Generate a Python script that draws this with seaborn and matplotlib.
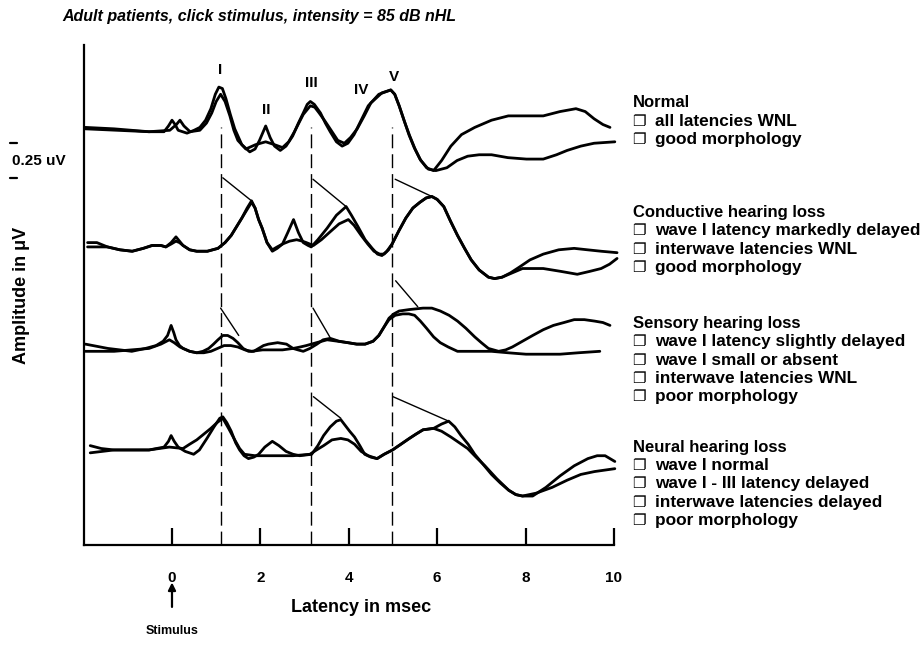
import matplotlib
matplotlib.use("Agg")
import matplotlib.pyplot as plt
import pandas as pd
import seaborn as sns

# ---------------------------------------------------------------- data
# latency in ms, amplitude in uV relative to each trace's own baseline
normal_a_ms = [-1.96, -1.31, -0.52, -0.18, -0.08, 0.00, 0.07, 0.14, 0.34, 0.50,
               0.63, 0.76, 0.88, 0.98, 1.06, 1.14, 1.22, 1.32, 1.42, 1.58,
               1.76, 1.88, 1.98, 2.12, 2.22, 2.32, 2.45, 2.58, 2.73, 2.86,
               2.97, 3.06, 3.13, 3.22, 3.36, 3.47, 3.58, 3.72, 3.85, 3.98,
               4.12, 4.28, 4.44, 4.68, 4.95, 5.04, 5.14, 5.25, 5.36, 5.48,
               5.61, 5.76, 5.92, 6.10, 6.31, 6.55, 6.85, 7.23, 7.61, 8.00,
               8.40, 8.78, 9.14, 9.35, 9.55, 9.75, 9.91]
normal_a_uv = [0.00, -0.01, -0.03, -0.03, 0.01, 0.05, 0.02, -0.02, -0.04, -0.02,
               0.00, 0.05, 0.13, 0.23, 0.28, 0.27, 0.20, 0.09, -0.01, -0.12,
               -0.17, -0.15, -0.09, 0.01, -0.07, -0.13, -0.16, -0.13, -0.06, 0.03,
               0.10, 0.16, 0.18, 0.16, 0.10, 0.03, -0.03, -0.10, -0.13, -0.11,
               -0.05, 0.05, 0.15, 0.23, 0.26, 0.23, 0.15, 0.05, -0.05, -0.14,
               -0.22, -0.28, -0.30, -0.23, -0.13, -0.05, 0.00, 0.05, 0.08, 0.08,
               0.08, 0.11, 0.13, 0.11, 0.06, 0.02, 0.00]
normal_b_ms = [-1.96, -0.52, -0.05, 0.10, 0.18, 0.27, 0.41, 0.63, 0.78, 0.90,
               1.00, 1.10, 1.20, 1.31, 1.40, 1.49, 1.67, 1.89, 2.12, 2.32,
               2.50, 2.64, 2.77, 2.97, 3.13, 3.23, 3.33, 3.47, 3.60, 3.75,
               3.90, 4.04, 4.19, 4.35, 4.50, 4.75, 4.95, 5.04, 5.14, 5.26,
               5.38, 5.50, 5.63, 5.80, 5.97, 6.22, 6.45, 6.69, 6.95, 7.23,
               7.60, 8.02, 8.40, 8.70, 8.94, 9.25, 9.55, 10.02]
normal_b_uv = [-0.01, -0.03, -0.02, 0.02, 0.05, 0.01, -0.03, -0.02, 0.03, 0.10,
               0.18, 0.23, 0.18, 0.08, -0.02, -0.09, -0.15, -0.12, -0.10, -0.12,
               -0.14, -0.10, -0.03, 0.09, 0.15, 0.14, 0.10, 0.04, -0.02, -0.09,
               -0.11, -0.07, -0.01, 0.08, 0.17, 0.24, 0.26, 0.23, 0.15, 0.04,
               -0.06, -0.15, -0.23, -0.29, -0.30, -0.28, -0.23, -0.20, -0.19, -0.19,
               -0.21, -0.22, -0.22, -0.19, -0.16, -0.13, -0.11, -0.10]

conductive_a_ms = [-1.91, -1.70, -1.46, -1.18, -0.90, -0.65, -0.45, -0.25, -0.14, -0.02,
                   0.09, 0.17, 0.25, 0.40, 0.56, 0.80, 1.04, 1.20, 1.34, 1.46,
                   1.58, 1.70, 1.80, 1.88, 1.96, 2.04, 2.15, 2.27, 2.38, 2.50,
                   2.62, 2.75, 2.86, 2.97, 3.08, 3.15, 3.30, 3.51, 3.72, 3.94,
                   4.06, 4.21, 4.37, 4.53, 4.65, 4.75, 4.86, 4.98, 5.13, 5.29,
                   5.45, 5.61, 5.75, 5.88, 6.00, 6.15, 6.30, 6.46, 6.62, 6.77,
                   6.95, 7.16, 7.30, 7.47, 7.66, 7.86, 8.10, 8.40, 8.75, 9.10,
                   9.40, 9.71, 10.07]
conductive_a_uv = [0.03, 0.03, 0.00, -0.02, -0.03, -0.01, 0.01, 0.01, 0.00, 0.03,
                   0.07, 0.04, 0.01, -0.02, -0.03, -0.03, -0.01, 0.03, 0.08, 0.14,
                   0.20, 0.27, 0.32, 0.27, 0.19, 0.13, 0.03, -0.03, -0.01, 0.02,
                   0.10, 0.19, 0.10, 0.03, 0.01, 0.00, 0.05, 0.13, 0.22, 0.28,
                   0.22, 0.14, 0.05, -0.01, -0.05, -0.06, -0.03, 0.02, 0.11, 0.20,
                   0.27, 0.31, 0.34, 0.35, 0.33, 0.28, 0.18, 0.08, -0.01, -0.09,
                   -0.16, -0.21, -0.22, -0.21, -0.18, -0.14, -0.09, -0.05, -0.02, -0.01,
                   -0.02, -0.03, -0.04]
conductive_b_ms = [-1.91, -1.46, -1.18, -0.90, -0.65, -0.45, -0.25, -0.14, -0.02, 0.09,
                   0.17, 0.25, 0.40, 0.56, 0.80, 1.04, 1.20, 1.34, 1.46, 1.58,
                   1.70, 1.80, 1.88, 1.96, 2.04, 2.15, 2.27, 2.38, 2.50, 2.66,
                   2.82, 2.95, 3.04, 3.20, 3.38, 3.56, 3.78, 3.99, 4.12, 4.28,
                   4.43, 4.57, 4.70, 4.80, 4.90, 4.98, 5.13, 5.29, 5.45, 5.61,
                   5.75, 5.88, 6.00, 6.15, 6.30, 6.46, 6.62, 6.77, 6.95, 7.16,
                   7.30, 7.47, 7.70, 7.93, 8.15, 8.40, 8.80, 9.17, 9.45, 9.71,
                   9.90, 10.07]
conductive_b_uv = [0.00, 0.00, -0.02, -0.03, -0.01, 0.01, 0.01, 0.00, 0.02, 0.04,
                   0.03, 0.01, -0.02, -0.03, -0.03, -0.01, 0.03, 0.08, 0.14, 0.20,
                   0.26, 0.31, 0.27, 0.19, 0.13, 0.03, -0.02, 0.00, 0.02, 0.04,
                   0.05, 0.04, 0.03, 0.01, 0.05, 0.10, 0.16, 0.19, 0.15, 0.08,
                   0.02, -0.03, -0.05, -0.05, -0.02, 0.02, 0.11, 0.20, 0.27, 0.31,
                   0.34, 0.35, 0.33, 0.28, 0.18, 0.08, -0.01, -0.09, -0.16, -0.21,
                   -0.22, -0.21, -0.18, -0.15, -0.15, -0.15, -0.17, -0.19, -0.17, -0.15,
                   -0.12, -0.08]

sensory_a_ms = [-1.96, -1.45, -0.91, -0.60, -0.36, -0.20, -0.10, -0.02, 0.04, 0.09,
                0.17, 0.25, 0.40, 0.56, 0.70, 0.83, 0.94, 1.04, 1.15, 1.26,
                1.38, 1.49, 1.61, 1.73, 1.85, 1.96, 2.07, 2.18, 2.39, 2.59,
                2.74, 2.85, 2.97, 3.12, 3.28, 3.42, 3.58, 3.78, 3.98, 4.18,
                4.37, 4.55, 4.68, 4.80, 4.91, 5.02, 5.14, 5.37, 5.68, 5.88,
                6.07, 6.27, 6.46, 6.65, 6.85, 7.00, 7.16, 7.39, 7.55, 7.70,
                7.93, 8.16, 8.40, 8.63, 8.87, 9.10, 9.33, 9.56, 9.75, 9.91]
sensory_a_uv = [0.02, -0.01, -0.03, -0.01, 0.01, 0.04, 0.08, 0.15, 0.10, 0.05,
                0.01, -0.01, -0.03, -0.04, -0.03, -0.01, 0.02, 0.05, 0.08, 0.08,
                0.06, 0.03, -0.01, -0.03, -0.03, -0.01, 0.01, 0.02, 0.03, 0.02,
                -0.01, -0.02, -0.03, -0.01, 0.02, 0.05, 0.06, 0.04, 0.03, 0.02,
                0.02, 0.04, 0.08, 0.14, 0.20, 0.23, 0.25, 0.26, 0.27, 0.27,
                0.25, 0.22, 0.18, 0.13, 0.07, 0.03, -0.01, -0.03, -0.02, 0.00,
                0.04, 0.08, 0.12, 0.15, 0.17, 0.19, 0.19, 0.18, 0.17, 0.15]
sensory_b_ms = [-1.96, -1.31, -0.52, -0.25, -0.06, 0.05, 0.18, 0.40, 0.56, 0.72,
                0.88, 1.03, 1.18, 1.33, 1.49, 1.65, 1.80, 2.05, 2.27, 2.50,
                2.74, 2.90, 3.04, 3.27, 3.51, 3.75, 3.98, 4.18, 4.37, 4.55,
                4.68, 4.80, 4.91, 5.05, 5.22, 5.36, 5.49, 5.62, 5.76, 5.92,
                6.07, 6.25, 6.46, 6.80, 7.23, 7.60, 8.01, 8.40, 8.78, 9.20,
                9.68]
sensory_b_uv = [-0.03, -0.03, -0.01, 0.02, 0.05, 0.03, 0.00, -0.03, -0.04, -0.04,
                -0.03, -0.01, 0.01, 0.01, 0.00, -0.02, -0.03, -0.02, -0.02, -0.02,
                -0.01, 0.00, 0.01, 0.03, 0.05, 0.04, 0.03, 0.02, 0.02, 0.04,
                0.08, 0.14, 0.19, 0.22, 0.23, 0.23, 0.22, 0.18, 0.13, 0.07,
                0.03, 0.00, -0.03, -0.03, -0.03, -0.04, -0.05, -0.05, -0.05, -0.04,
                -0.03]

neural_a_ms = [-1.85, -1.60, -1.31, -0.90, -0.52, -0.18, -0.08, -0.02, 0.05, 0.14,
               0.30, 0.49, 0.62, 0.79, 0.95, 1.08, 1.15, 1.24, 1.34, 1.44,
               1.53, 1.63, 1.73, 1.85, 1.96, 2.10, 2.27, 2.42, 2.58, 2.74,
               2.89, 3.16, 3.30, 3.43, 3.58, 3.72, 3.82, 3.92, 4.02, 4.13,
               4.25, 4.36, 4.50, 4.64, 4.80, 4.99, 5.18, 5.37, 5.52, 5.68,
               5.92, 6.10, 6.26, 6.40, 6.54, 6.70, 6.85, 7.04, 7.23, 7.43,
               7.62, 7.78, 7.93, 8.16, 8.46, 8.78, 9.10, 9.41, 9.62, 9.80,
               10.02]
neural_a_uv = [0.03, 0.01, 0.00, 0.00, 0.00, 0.02, 0.06, 0.10, 0.06, 0.02,
               -0.01, -0.03, 0.00, 0.08, 0.16, 0.22, 0.23, 0.19, 0.13, 0.05,
               0.00, -0.04, -0.06, -0.05, -0.03, 0.02, 0.06, 0.03, -0.01, -0.03,
               -0.04, -0.03, 0.03, 0.10, 0.16, 0.20, 0.21, 0.17, 0.13, 0.09,
               0.03, -0.03, -0.05, -0.06, -0.03, 0.00, 0.04, 0.08, 0.11, 0.14,
               0.15, 0.18, 0.20, 0.16, 0.10, 0.04, -0.03, -0.10, -0.17, -0.23,
               -0.28, -0.31, -0.32, -0.32, -0.26, -0.18, -0.11, -0.06, -0.04, -0.04,
               -0.08]
neural_b_ms = [-1.85, -1.31, -0.52, -0.06, 0.25, 0.40, 0.56, 0.72, 0.88, 1.02,
               1.15, 1.28, 1.42, 1.53, 1.64, 1.88, 2.27, 2.74, 3.12, 3.27,
               3.43, 3.62, 3.82, 3.98, 4.13, 4.28, 4.44, 4.64, 4.80, 4.99,
               5.18, 5.37, 5.52, 5.68, 5.92, 6.10, 6.31, 6.50, 6.69, 6.88,
               7.08, 7.35, 7.62, 7.78, 7.93, 8.24, 8.60, 8.94, 9.25, 9.56,
               10.02]
neural_b_uv = [-0.02, 0.00, 0.00, 0.02, 0.01, 0.04, 0.07, 0.11, 0.15, 0.19,
               0.22, 0.15, 0.07, 0.01, -0.03, -0.04, -0.04, -0.04, -0.03, 0.00,
               0.03, 0.07, 0.08, 0.07, 0.04, -0.01, -0.04, -0.06, -0.03, 0.00,
               0.04, 0.08, 0.11, 0.14, 0.15, 0.13, 0.09, 0.05, 0.01, -0.05,
               -0.11, -0.20, -0.28, -0.31, -0.32, -0.30, -0.26, -0.21, -0.17, -0.15,
               -0.13]

# latency-shift markers: (start ms, start uV) -> (peak ms, peak uV), per panel
conductive_marks = [((1.15, 0.48), (1.80, 0.32)),
                    ((3.19, 0.47), (3.94, 0.28)),
                    ((5.05, 0.47), (5.88, 0.35))]
sensory_marks = [((1.10, 0.27), (1.51, 0.08)),
                 ((3.19, 0.27), (3.57, 0.07)),
                 ((5.06, 0.46), (5.56, 0.28))]
neural_marks = [((3.20, 0.37), (3.82, 0.22)),
                ((5.00, 0.37), (6.26, 0.20))]

wave_names = ["I", "II", "III", "IV", "V"]
wave_ms = [1.10, 2.14, 3.15, 4.28, 5.02]
dashed_ms = [1.10, 3.15, 4.98]
x_ticks = [0, 2, 4, 6, 8, 10]

panel_names = ["Normal", "Conductive hearing loss",
               "Sensory hearing loss", "Neural hearing loss"]
panel_notes = [
    ["all latencies WNL", "good morphology"],
    ["wave I latency markedly delayed", "interwave latencies WNL",
     "good morphology"],
    ["wave I latency slightly delayed", "wave I small or absent",
     "interwave latencies WNL", "poor morphology"],
    ["wave I normal", "wave I - III latency delayed",
     "interwave latencies delayed", "poor morphology"],
]

# ---------------------------------------------------------------- layout
baseline = [2.90, 2.07, 1.375, 0.66]          # vertical stacking of panels
note_title_y = [3.07, 2.31, 1.54, 0.68]
note_step = 0.128
wave_label_y = [3.30, 3.02, 3.21, 3.16, 3.25]

traces = [
    (0, "a", normal_a_ms, normal_a_uv), (0, "b", normal_b_ms, normal_b_uv),
    (1, "a", conductive_a_ms, conductive_a_uv), (1, "b", conductive_b_ms, conductive_b_uv),
    (2, "a", sensory_a_ms, sensory_a_uv), (2, "b", sensory_b_ms, sensory_b_uv),
    (3, "a", neural_a_ms, neural_a_uv), (3, "b", neural_b_ms, neural_b_uv),
]
frames = []
for p, tag, ms, uv in traces:
    frames.append(pd.DataFrame({
        "latency": ms,
        "amplitude": [baseline[p] + v for v in uv],
        "trace": f"{panel_names[p]} {tag}",
    }))
df = pd.concat(frames, ignore_index=True)

# ---------------------------------------------------------------- figure
sns.set_theme(style="white")
plt.rcParams["font.family"] = ["Liberation Sans", "DejaVu Sans"]
plt.rcParams.update({
    "font.weight": "bold", "axes.labelweight": "bold",
    "text.color": "black", "axes.labelcolor": "black",
    "axes.edgecolor": "black", "xtick.color": "black",
})

fig = plt.figure(figsize=(9.22, 6.48), dpi=100)
ax = fig.add_axes([83.6 / 922, 1 - 545 / 648, 539.2 / 922, 500 / 648])

sns.lineplot(data=df, x="latency", y="amplitude", units="trace",
             estimator=None, sort=False, color="black", linewidth=2.0,
             legend=False, ax=ax)
for ln in ax.lines:
    ln.set_solid_joinstyle("round")
    ln.set_solid_capstyle("round")

ax.vlines(dashed_ms, 0, 2.9, colors="black", linewidth=1.0,
          linestyles=(0, (10, 4.3)))

for p, marks in ((1, conductive_marks), (2, sensory_marks), (3, neural_marks)):
    for (x0, y0), (x1, y1) in marks:
        ax.plot([x0, x1], [baseline[p] + y0, baseline[p] + y1],
                color="black", linewidth=1.0)

for name, x, y in zip(wave_names, wave_ms, wave_label_y):
    ax.text(x, y, name, ha="center", va="center", fontsize=11,
            fontweight="bold")

ax.set_xlim(-2, 10.2)
ax.set_ylim(0, 500 / 144)
sns.despine(ax=ax, top=True, right=True)
ax.spines["bottom"].set_bounds(-2, 10)
for s in ("left", "bottom"):
    ax.spines[s].set_linewidth(1.6)

ax.set_xticks(x_ticks)
ax.set_xticklabels([str(t) for t in x_ticks])
ax.set_yticks([])
ax.tick_params(axis="x", bottom=True, direction="in", length=12, width=1.6,
               pad=19, labelsize=11)
for lab in ax.get_xticklabels():
    lab.set_fontweight("bold")

ax.set_xlabel("Latency in msec", fontsize=13, fontweight="bold")
ax.xaxis.set_label_coords(0.514, -0.108)
ax.set_ylabel("Amplitude in \u03bcV", fontsize=13, fontweight="bold")
ax.yaxis.set_label_coords(-0.100, 0.5)

# stimulus onset arrow and its label
ax.annotate("", xy=(0, -0.26), xytext=(0, -0.43), annotation_clip=False,
            arrowprops=dict(arrowstyle="-|>", color="black", lw=1.6,
                            mutation_scale=11, shrinkA=0, shrinkB=0))
ax.text(0, -0.60, "Stimulus", ha="center", va="center", fontsize=9,
        fontweight="bold", clip_on=False)

# 0.25 uV calibration bar
for yb in (2.79, 2.55):
    ax.plot([-3.67, -3.51], [yb, yb], color="black", linewidth=1.6,
            clip_on=False)
ax.text(-3.62, 2.67, "0.25 uV", ha="left", va="center", fontsize=11,
        fontweight="bold", clip_on=False)

# panel descriptions
for title, notes, ty in zip(panel_names, panel_notes, note_title_y):
    ax.text(10.42, ty, title, ha="left", va="center", fontsize=12,
            fontweight="bold", clip_on=False)
    for i, note in enumerate(notes):
        y = ty - note_step * (i + 1)
        ax.text(10.42, y, "\u2750", ha="left", va="center", fontsize=11,
                family=["DejaVu Sans"], fontweight="normal", clip_on=False)
        ax.text(10.93, y, note, ha="left", va="center", fontsize=12.4,
                fontweight="bold", clip_on=False)

fig.text(62 / 922, 1 - 17 / 648,
         "Adult patients, click stimulus, intensity = 85 dB nHL",
         ha="left", va="center", fontsize=11.5, fontweight="bold",
         fontstyle="italic")

fig.savefig("out.png", dpi=100)
